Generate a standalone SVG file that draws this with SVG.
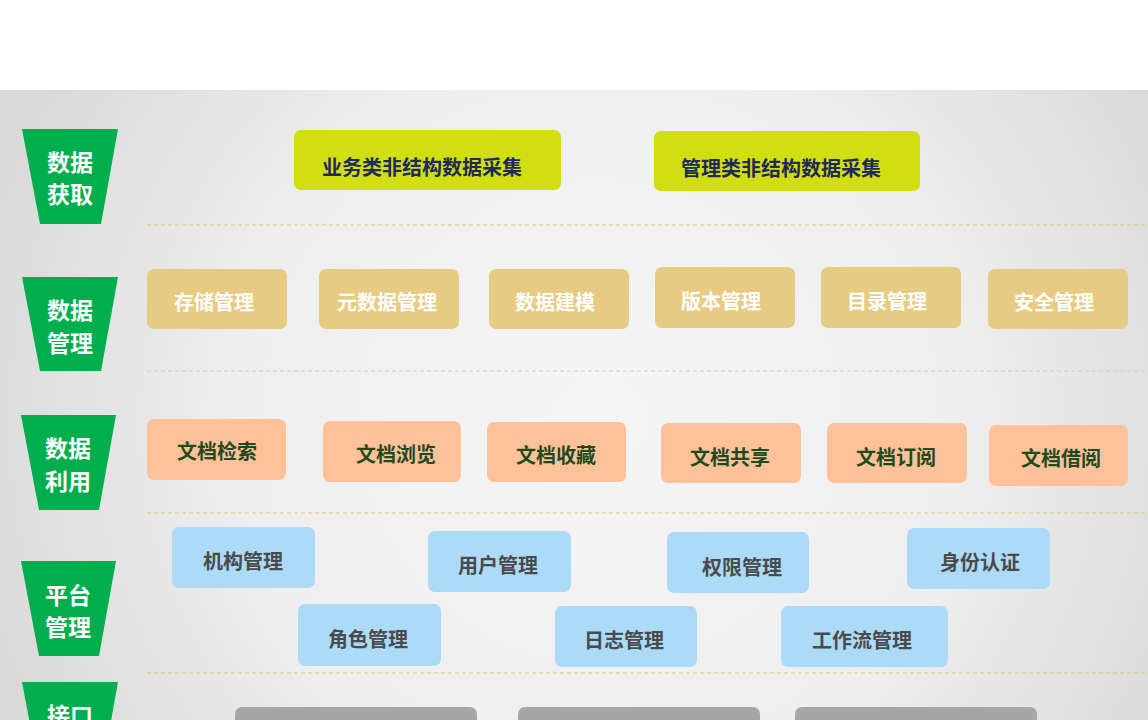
<svg xmlns="http://www.w3.org/2000/svg" width="1148" height="720" viewBox="0 0 1148 720">
<defs>
<radialGradient id="bg" cx="600" cy="420" r="650" gradientUnits="userSpaceOnUse">
<stop offset="0" stop-color="#f5f5f5"/><stop offset="0.55" stop-color="#efefef"/><stop offset="1" stop-color="#d9d9d9"/>
</radialGradient>
<style>
text{font-family:"Noto Sans CJK SC","Noto Sans",sans-serif;font-weight:bold;text-anchor:middle;dominant-baseline:central}
.cat{fill:#00ae4d}.cat+text,.ct{fill:#fff;font-size:23px}
.g{fill:#d0de12}.gt{fill:#1f2a5a;font-size:20px}
.y{fill:#e8cb82}.yt{fill:#fff;font-size:20px}
.o{fill:#ffc19a}.ot{fill:#1e4a1e;font-size:20px}
.b{fill:#acdbf8}.bt{fill:#4a4a4a;font-size:20px}
.k{fill:#a6a6a6}
.sep{stroke:#e9c56a;stroke-width:1;stroke-dasharray:4 3}
</style>
</defs>
<rect width="1148" height="720" fill="#fff"/>
<rect y="90" width="1148" height="630" fill="url(#bg)"/>
<g id="connectors">
<line class="sep" x1="147" y1="225" x2="1148" y2="225"/>
<line class="sep" x1="147" y1="371" x2="1148" y2="371" style="stroke:#cfcfcf"/>
<line class="sep" x1="147" y1="513" x2="1148" y2="513"/>
<line class="sep" x1="147" y1="673" x2="1148" y2="673"/>
</g>
<g id="c1"><polygon class="cat" points="22,129 118,129 101,224 40,224"/><text class="ct" x="70" y="161">数据</text><text class="ct" x="70" y="193">获取</text></g>
<g id="c2"><polygon class="cat" points="22,277 118,277 101,371 40,371"/><text class="ct" x="70" y="309">数据</text><text class="ct" x="70" y="342">管理</text></g>
<g id="c3"><polygon class="cat" points="21,415 116,415 99,510 39,510"/><text class="ct" x="68" y="447">数据</text><text class="ct" x="68" y="480">利用</text></g>
<g id="c4"><polygon class="cat" points="21,561 116,561 99,656 39,656"/><text class="ct" x="68" y="594">平台</text><text class="ct" x="68" y="626">管理</text></g>
<g id="c5"><polygon class="cat" points="22,682 118,682 101,777 40,777"/><text class="ct" x="70" y="714">接口</text></g>
<g id="g1"><rect class="g" x="294" y="130" width="267" height="60" rx="7"/><text class="gt" x="422" y="166">业务类非结构数据采集</text></g>
<g id="g2"><rect class="g" x="654" y="131" width="266" height="60" rx="7"/><text class="gt" x="781" y="167">管理类非结构数据采集</text></g>
<g id="y1"><rect class="y" x="147" y="269" width="140" height="60" rx="7"/><text class="yt" x="214" y="301">存储管理</text></g>
<g id="y2"><rect class="y" x="319" y="269" width="140" height="60" rx="7"/><text class="yt" x="387" y="301">元数据管理</text></g>
<g id="y3"><rect class="y" x="489" y="269" width="140" height="60" rx="7"/><text class="yt" x="555" y="301">数据建模</text></g>
<g id="y4"><rect class="y" x="655" y="267" width="140" height="61" rx="7"/><text class="yt" x="721" y="300">版本管理</text></g>
<g id="y5"><rect class="y" x="821" y="267" width="140" height="61" rx="7"/><text class="yt" x="887" y="300">目录管理</text></g>
<g id="y6"><rect class="y" x="988" y="269" width="140" height="60" rx="7"/><text class="yt" x="1054" y="301">安全管理</text></g>
<g id="o1"><rect class="o" x="147" y="419" width="139" height="61" rx="7"/><text class="ot" x="217" y="450">文档检索</text></g>
<g id="o2"><rect class="o" x="323" y="421" width="138" height="61" rx="7"/><text class="ot" x="396" y="453">文档浏览</text></g>
<g id="o3"><rect class="o" x="487" y="422" width="139" height="60" rx="7"/><text class="ot" x="556" y="454">文档收藏</text></g>
<g id="o4"><rect class="o" x="661" y="423" width="140" height="60" rx="7"/><text class="ot" x="730" y="456">文档共享</text></g>
<g id="o5"><rect class="o" x="827" y="423" width="140" height="60" rx="7"/><text class="ot" x="896" y="456">文档订阅</text></g>
<g id="o6"><rect class="o" x="989" y="425" width="139" height="61" rx="7"/><text class="ot" x="1061" y="457">文档借阅</text></g>
<g id="b1"><rect class="b" x="172" y="527" width="143" height="61" rx="7"/><text class="bt" x="243" y="560">机构管理</text></g>
<g id="b2"><rect class="b" x="428" y="531" width="143" height="61" rx="7"/><text class="bt" x="498" y="564">用户管理</text></g>
<g id="b3"><rect class="b" x="667" y="532" width="142" height="61" rx="7"/><text class="bt" x="742" y="566">权限管理</text></g>
<g id="b4"><rect class="b" x="907" y="528" width="143" height="61" rx="7"/><text class="bt" x="980" y="561">身份认证</text></g>
<g id="b5"><rect class="b" x="298" y="604" width="143" height="62" rx="7"/><text class="bt" x="368" y="638">角色管理</text></g>
<g id="b6"><rect class="b" x="555" y="606" width="142" height="61" rx="7"/><text class="bt" x="624" y="639">日志管理</text></g>
<g id="b7"><rect class="b" x="781" y="606" width="167" height="61" rx="7"/><text class="bt" x="862" y="639">工作流管理</text></g>
<g id="k1"><rect class="k" x="235" y="707" width="242" height="40" rx="7"/></g>
<g id="k2"><rect class="k" x="518" y="707" width="242" height="40" rx="7"/></g>
<g id="k3"><rect class="k" x="795" y="707" width="242" height="40" rx="7"/></g>
</svg>
